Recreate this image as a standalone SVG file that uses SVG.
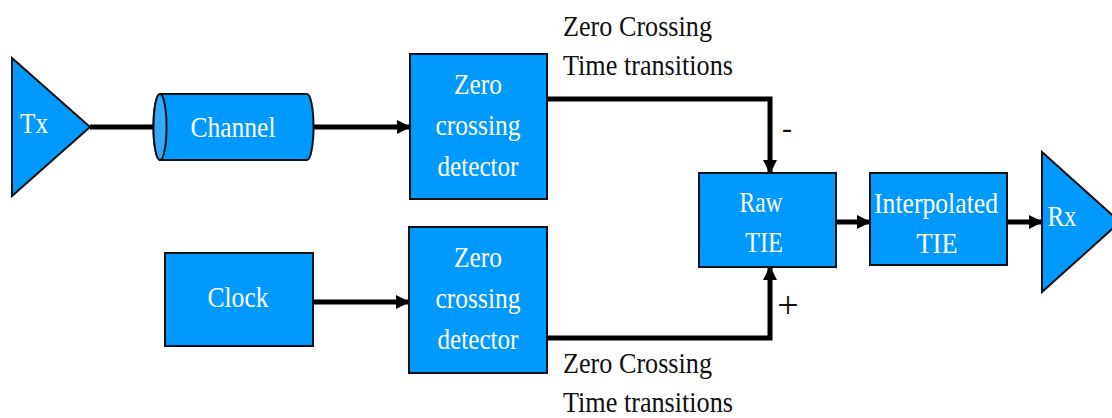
<svg xmlns="http://www.w3.org/2000/svg" width="1112" height="418" viewBox="0 0 1112 418">
  <style>
    .blk { fill: #0099FF; stroke: #111; stroke-width: 2; }
    .lbl { fill: #fff; text-anchor: middle; }
    .note { fill: #111; }
    .wire { fill: none; stroke: #000; stroke-width: 5; }
  </style>
  <defs>
    <marker id="arrow" markerUnits="userSpaceOnUse" markerWidth="14" markerHeight="14" refX="13" refY="7" orient="auto">
      <path d="M0,0 L14,7 L0,14 Z" fill="#000"/>
    </marker>
  </defs>
  <rect width="1112" height="418" fill="#fff"/>

  <!-- connectors -->
  <g id="connectors">
    <line class="wire" x1="90" y1="127" x2="156" y2="127"/>
    <line class="wire" x1="313" y1="127" x2="410" y2="127" marker-end="url(#arrow)"/>
    <polyline class="wire" points="547,99 770,99 770,173" marker-end="url(#arrow)"/>
    <line class="wire" x1="313" y1="302" x2="409" y2="302" marker-end="url(#arrow)"/>
    <polyline class="wire" points="547,338 770,338 770,267" marker-end="url(#arrow)"/>
    <line class="wire" x1="836" y1="222" x2="870" y2="222" marker-end="url(#arrow)"/>
    <line class="wire" x1="1007" y1="222" x2="1042" y2="222" marker-end="url(#arrow)"/>
  </g>

  <g font-family="Liberation Serif, DejaVu Serif, serif" font-size="30">
  <!-- transmitter -->
  <g id="tx">
    <polygon class="blk" points="12,58 90,127 12,196"/>
    <text class="lbl" x="34" y="133" textLength="28" lengthAdjust="spacingAndGlyphs">Tx</text>
  </g>

  <!-- channel cylinder -->
  <g id="channel">
    <path class="blk" d="M160,94 L307,94 A6.5,33 0 0 1 307,160 L160,160 A6.5,33 0 0 1 160,94 Z"/>
    <ellipse cx="160" cy="127" rx="6.5" ry="33" fill="#33AAFF" stroke="#111" stroke-width="2"/>
    <text class="lbl" x="233" y="137" textLength="85" lengthAdjust="spacingAndGlyphs">Channel</text>
  </g>

  <!-- zero crossing detector, channel path -->
  <g id="zcd-top">
    <rect class="blk" x="410" y="54" width="137" height="145"/>
    <text class="lbl" x="478" y="94" textLength="48" lengthAdjust="spacingAndGlyphs">Zero</text>
    <text class="lbl" x="478" y="135" textLength="85" lengthAdjust="spacingAndGlyphs">crossing</text>
    <text class="lbl" x="478" y="176" textLength="81" lengthAdjust="spacingAndGlyphs">detector</text>
  </g>

  <!-- clock -->
  <g id="clock">
    <rect class="blk" x="165" y="253" width="148" height="93"/>
    <text class="lbl" x="238" y="307" textLength="61" lengthAdjust="spacingAndGlyphs">Clock</text>
  </g>

  <!-- zero crossing detector, clock path -->
  <g id="zcd-bottom">
    <rect class="blk" x="409" y="227" width="138" height="146"/>
    <text class="lbl" x="478" y="267" textLength="48" lengthAdjust="spacingAndGlyphs">Zero</text>
    <text class="lbl" x="478" y="308" textLength="85" lengthAdjust="spacingAndGlyphs">crossing</text>
    <text class="lbl" x="478" y="349" textLength="81" lengthAdjust="spacingAndGlyphs">detector</text>
  </g>

  <!-- raw time interval error -->
  <g id="raw-tie">
    <rect class="blk" x="699" y="173" width="137" height="94"/>
    <text class="lbl" x="761" y="212" textLength="43" lengthAdjust="spacingAndGlyphs">Raw</text>
    <text class="lbl" x="764" y="252" textLength="38" lengthAdjust="spacingAndGlyphs">TIE</text>
  </g>

  <!-- interpolated time interval error -->
  <g id="interp-tie">
    <rect class="blk" x="870" y="173" width="137" height="92"/>
    <text class="lbl" x="936" y="213" textLength="124" lengthAdjust="spacingAndGlyphs">Interpolated</text>
    <text class="lbl" x="937" y="253" textLength="41" lengthAdjust="spacingAndGlyphs">TIE</text>
  </g>

  <!-- receiver -->
  <g id="rx">
    <polygon class="blk" points="1042,152 1120,222 1042,292"/>
    <text class="lbl" x="1062" y="226" textLength="29" lengthAdjust="spacingAndGlyphs">Rx</text>
  </g>

  <!-- annotations -->
  <g id="annotations">
    <text class="note" x="563" y="36" textLength="149" lengthAdjust="spacingAndGlyphs">Zero Crossing</text>
    <text class="note" x="563" y="75" textLength="170" lengthAdjust="spacingAndGlyphs">Time transitions</text>
    <text class="note" x="563" y="373" textLength="149" lengthAdjust="spacingAndGlyphs">Zero Crossing</text>
    <text class="note" x="563" y="412" textLength="170" lengthAdjust="spacingAndGlyphs">Time transitions</text>
    <text class="note" x="787" y="138" text-anchor="middle">-</text>
    <text class="note" x="788" y="318" text-anchor="middle" font-size="38">+</text>
  </g>
  </g>
</svg>
